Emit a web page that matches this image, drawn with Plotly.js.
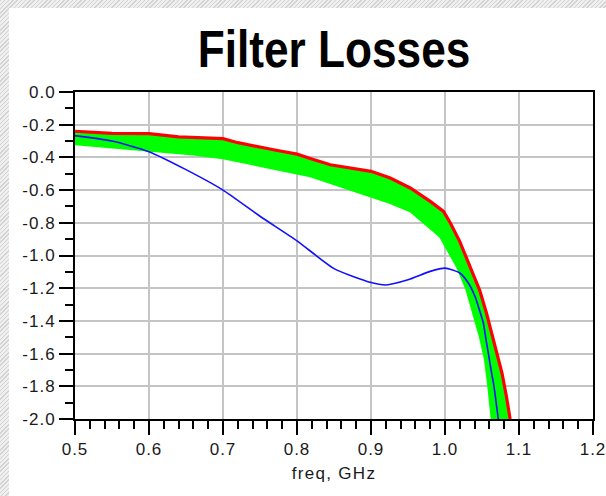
<!DOCTYPE html>
<html><head><meta charset="utf-8">
<script src="https://cdn.plot.ly/plotly-3.0.1.min.js"></script>
<style>
html,body{margin:0;padding:0;background:#fff;}
#frame{position:relative;width:606px;height:496px;background:repeating-linear-gradient(135deg,#d2d2d2 0 1px,#efefef 1px 3px);overflow:hidden;}
#panel{position:absolute;left:9px;top:8px;right:0;bottom:0;background:#fff;}
#chart{position:absolute;left:0;top:0;width:606px;height:496px;}
#chart .xtick text, #chart .ytick text{letter-spacing:1px;}
#chart .xtitle{letter-spacing:1.3px;}
#chart .gtitle{transform-box:fill-box;transform-origin:center;transform:scaleX(0.85);}
</style></head><body>
<div id="frame"><div id="panel"></div><div id="chart"></div></div>
<script>
// Upper (red) boundary
const redFreq = [0.5, 0.55, 0.6, 0.64, 0.7, 0.72, 0.77, 0.8, 0.82, 0.845, 0.9, 0.926, 0.953, 0.98, 0.998, 1.007, 1.02, 1.034, 1.047, 1.056, 1.068, 1.077, 1.083, 1.088];
const redLoss = [-0.24, -0.253, -0.255, -0.275, -0.285, -0.31, -0.355, -0.38, -0.41, -0.445, -0.485, -0.526, -0.587, -0.669, -0.73, -0.80, -0.915, -1.067, -1.215, -1.352, -1.556, -1.719, -1.862, -2.0];
// Lower edge of the green spread
const greenFreq = [0.5, 0.55, 0.6, 0.66, 0.7, 0.75, 0.79, 0.818, 0.845, 0.9, 0.926, 0.953, 0.98, 0.993, 1.002, 1.016, 1.029, 1.038, 1.047, 1.054, 1.0585, 1.063];
const greenLoss = [-0.32, -0.34, -0.36, -0.383, -0.405, -0.45, -0.49, -0.516, -0.557, -0.638, -0.679, -0.73, -0.83, -0.883, -0.955, -1.067, -1.209, -1.352, -1.495, -1.637, -1.80, -2.0];
// Blue curve
const blueFreq = [0.5, 0.55, 0.6, 0.65, 0.7, 0.75, 0.8, 0.85, 0.9, 0.92, 0.95, 0.98, 1.0, 1.02, 1.0315, 1.0405, 1.045, 1.0518, 1.0554, 1.0585, 1.063, 1.0662, 1.0698, 1.072];
const blueLoss = [-0.267, -0.30, -0.365, -0.475, -0.60, -0.76, -0.91, -1.08, -1.165, -1.18, -1.148, -1.097, -1.077, -1.107, -1.168, -1.25, -1.311, -1.413, -1.515, -1.596, -1.719, -1.80, -1.923, -2.0];

const yTickVals = [0, -0.2, -0.4, -0.6, -0.8, -1.0, -1.2, -1.4, -1.6, -1.8, -2.0];
const yTickText = ['0.0', '-0.2', '-0.4', '-0.6', '-0.8', '-1.0', '-1.2', '-1.4', '-1.6', '-1.8', '-2.0'];

const tickFont = {family: 'Liberation Sans, Arial, sans-serif', size: 17, color: '#1a1a1a'};

const traces = [
  {x: redFreq, y: redLoss, mode: 'lines', line: {color: 'rgba(0,0,0,0)', width: 0}, hoverinfo: 'skip'},
  {x: greenFreq, y: greenLoss, mode: 'lines', line: {color: '#00ff00', width: 2}, fill: 'tonexty', fillcolor: '#00ff00'},
  {x: blueFreq, y: blueLoss, mode: 'lines', line: {color: '#1010ff', width: 1.6, shape: 'spline', smoothing: 0.6}},
  {x: redFreq, y: redLoss, mode: 'lines', line: {color: '#ff0000', width: 3.2}}
];

const layout = {
  width: 606, height: 496,
  margin: {l: 75, r: 13, t: 92, b: 77, pad: 0},
  paper_bgcolor: 'rgba(0,0,0,0)', plot_bgcolor: '#ffffff',
  showlegend: false,
  title: {text: 'Filter Losses', font: {family: 'Liberation Sans, Arial, sans-serif', size: 52, color: '#000', weight: 700},
          x: 0.5, xref: 'paper', xanchor: 'center', y: 1 - 49/496, yref: 'container', yanchor: 'middle'},
  xaxis: {
    range: [0.5, 1.2], tickmode: 'linear', tick0: 0.5, dtick: 0.1, tickformat: '.1f',
    showgrid: true, gridcolor: '#c4c4c4', gridwidth: 2, zeroline: false,
    showline: true, linecolor: '#000', linewidth: 2, mirror: true,
    ticks: 'outside', ticklen: 14, tickwidth: 2, tickcolor: '#000',
    minor: {tickmode: 'linear', tick0: 0.5, dtick: 0.02, ticks: 'outside', ticklen: 8, tickwidth: 2, tickcolor: '#000', showgrid: false},
    tickfont: tickFont,
    title: {text: 'freq, GHz', font: {family: 'Liberation Sans, Arial, sans-serif', size: 17, color: '#1a1a1a'}, standoff: 9}
  },
  yaxis: {
    range: [-2, 0], tickmode: 'array', tickvals: yTickVals, ticktext: yTickText,
    showgrid: true, gridcolor: '#c4c4c4', gridwidth: 2, zeroline: false,
    showline: true, linecolor: '#000', linewidth: 2, mirror: true,
    ticks: 'outside', ticklen: 14, tickwidth: 2, tickcolor: '#000',
    minor: {tickmode: 'linear', tick0: 0, dtick: 0.1, ticks: 'outside', ticklen: 8, tickwidth: 2, tickcolor: '#000', showgrid: false},
    tickfont: tickFont
  }
};

Plotly.newPlot('chart', traces, layout, {staticPlot: true, displayModeBar: false});
</script>
</body></html>
